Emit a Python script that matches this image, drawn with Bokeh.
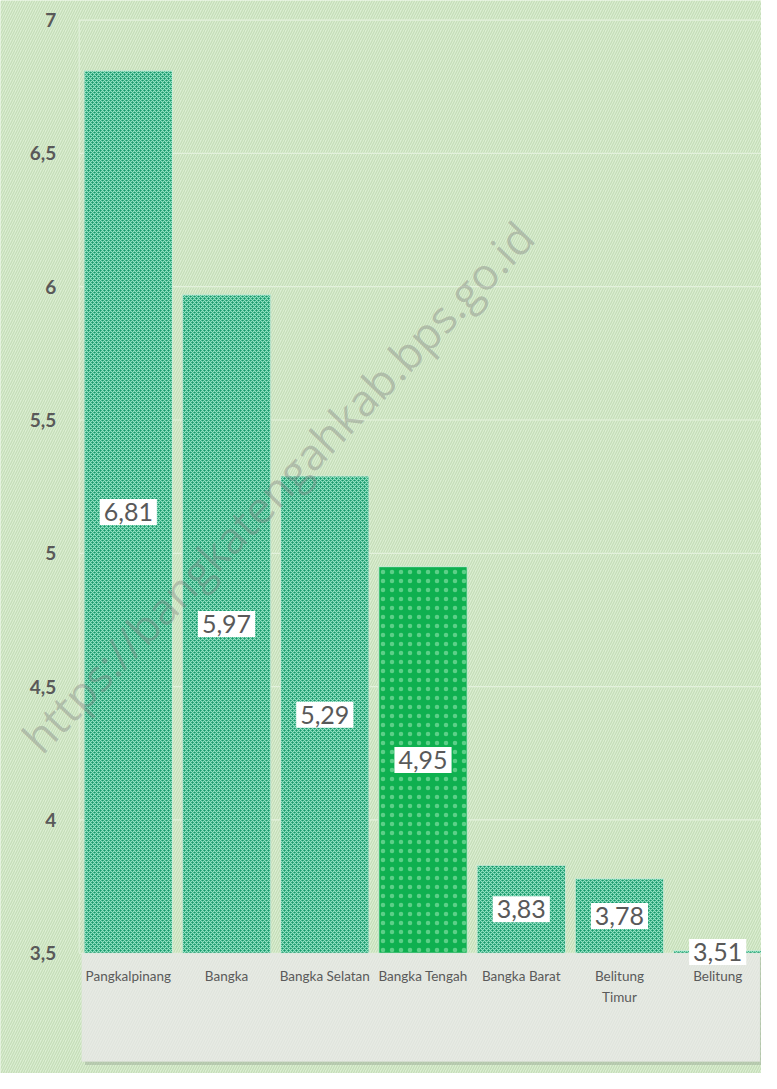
from bokeh.plotting import figure
from bokeh.models import Range1d
from bokeh.core.properties import value
from bokeh.embed import file_html
from bokeh.resources import INLINE

# ---- data ----
categories = ["Pangkalpinang", "Bangka", "Bangka Selatan", "Bangka Tengah",
              "Bangka Barat", "Belitung\nTimur", "Belitung"]
values = [6.81, 5.97, 5.29, 4.95, 3.83, 3.78, 3.51]
value_labels = ["6,81", "5,97", "5,29", "4,95", "3,83", "3,78", "3,51"]
highlight = "Bangka Tengah"
y_ticks = [3.5, 4.0, 4.5, 5.0, 5.5, 6.0, 6.5, 7.0]
y_tick_labels = ["3,5", "4", "4,5", "5", "5,5", "6", "6,5", "7"]
watermark = "https://bangkatengahkab.bps.go.id"
baseline = 3.5

# ---- view ----
X0, X1 = -1.301, 6.446
Y0, Y1 = 3.049, 7.0735
W, H = 761, 1073

p = figure(width=W, height=H, x_range=Range1d(X0, X1), y_range=Range1d(Y0, Y1),
           min_border=0, toolbar_location=None, output_backend="svg",
           x_axis_location=None, y_axis_location=None)
p.grid.visible = False
p.outline_line_color = None
p.background_fill_color = "#d9edcf"
p.border_fill_color = "#d9edcf"

GREY = "#595959"
xs = list(range(len(categories)))

# hatched background
p.quad(left=[X0], right=[X1], bottom=[Y0], top=[Y1], fill_color="#dbeed2",
       line_color=None, hatch_pattern="/", hatch_color="#c4ddb7",
       hatch_scale=5, hatch_weight=1.2)

# gridlines
p.segment(x0=[-0.5] * len(y_ticks), y0=y_ticks, x1=[X1] * len(y_ticks), y1=y_ticks,
          line_color="#e3f1dc", line_width=1.2)
p.segment(x0=[-0.5], y0=[baseline], x1=[-0.5], y1=[y_ticks[-1]],
          line_color="#e3f1dc", line_width=1)

# y tick labels
p.text(x=[-0.733] * len(y_ticks), y=y_ticks, text=y_tick_labels,
       text_font=value("Lato"), text_font_size="19px", text_font_style="bold",
       text_color=GREY, text_align="right", text_baseline="middle")

# bars
normal = [i for i, c in enumerate(categories) if c != highlight]
hi = [i for i, c in enumerate(categories) if c == highlight]
p.vbar(x=[xs[i] for i in normal], top=[values[i] for i in normal], bottom=baseline,
       width=0.9, fill_color="#16966a", line_color="#cdebd6", line_width=1,
       hatch_pattern="x", hatch_color="#96e6c6", hatch_scale=4, hatch_weight=1.1)
p.vbar(x=[xs[i] for i in hi], top=[values[i] for i in hi], bottom=baseline,
       width=0.9, fill_color="#0fb050", line_color="#cdebd6", line_width=1,
       hatch_pattern=".", hatch_color="#5ccf88", hatch_scale=9, hatch_weight=0.6)

# category panel (shadow + box)
p.quad(left=[-0.44], right=[6.50], bottom=[3.081], top=[3.487],
       fill_color="#9aa895", fill_alpha=0.45, line_color=None)
p.quad(left=[-0.474], right=[6.43], bottom=[3.094], top=[3.5],
       fill_color="#e7eae4", line_color=None, hatch_pattern="/",
       hatch_color="#dee3db", hatch_scale=5, hatch_weight=1)

# category labels
p.text(x=xs, y=[3.443] * len(xs), text=categories, text_font=value("Lato"),
       text_font_size="13.5px", text_color="#5a5a5a", text_align="center",
       text_baseline="top", text_line_height=1.3)

# value labels
p.text(x=xs, y=[(baseline + v) / 2 for v in values], text=value_labels,
       text_font=value("Lato"), text_font_size="25px", text_color=GREY,
       text_align="center", text_baseline="middle",
       background_fill_color="white", padding=4)

# watermark
p.text(x=[1.52], y=[5.25], text=[watermark], angle=0.806,
       text_font=value("Open Sans"), text_font_size="44px",
       text_color="#7d7d7d", text_alpha=0.38, text_align="center",
       text_baseline="middle")

open("out.html", "w").write(file_html(p, INLINE))
